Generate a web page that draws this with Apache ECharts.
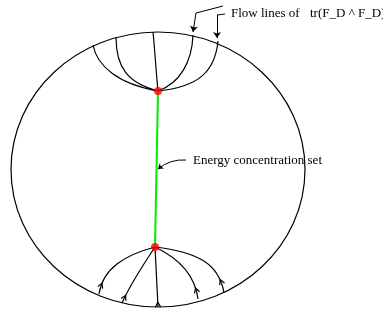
<!DOCTYPE html>
<html>
<head>
<meta charset="utf-8">
<script src="https://cdn.jsdelivr.net/npm/echarts@6/dist/echarts.min.js"></script>
<style>
html, body { margin: 0; padding: 0; background: #fff; }
#main { width: 383px; height: 313px; }
</style>
</head>
<body>
<div id="main"></div>
<script>
// boundary: cx, cy, rx, ry
let boundary = [[158, 169.5, 147, 137.5]];
// flow lines as cubic curves: x0, y0, cpx1, cpy1, cpx2, cpy2, x1, y1
let topFlows = [
    [93, 45, 97, 66, 118, 84, 158, 91],
    [116, 37, 116, 68, 128, 83, 158, 91],
    [153, 32, 155, 52, 156, 71, 158, 91],
    [193, 35, 192, 62, 180, 83, 158, 91],
    [218, 41, 215, 72, 198, 87, 158, 91]
];
let bottomFlows = [
    [155, 247, 125, 255, 103, 268, 99, 294],
    [155, 247, 143, 265, 130, 285, 122, 303],
    [155, 247, 156, 267, 157, 287, 158, 307],
    [155, 247, 178, 258, 195, 275, 198, 299],
    [155, 247, 195, 252, 219, 262, 224, 293]
];
// where the arrow mark sits on each bottom flow line
let chevronAt = [0.85, 0.86, 0.92, 0.84, 0.84];
let singular = [[158, 91], [155, 247]];
let concentration = [[158, 91], [155, 247]];
let leaderPlain = [
    [[223, 6], [196, 13]],
    [[225, 14], [217, 15]]
];
let leaderArrow = [
    [[196, 13], [193, 32]],
    [[217, 15], [217, 38]]
];
let leaderCurved = [
    [[186, 160], [158, 169]]
];

let serif = '13px "Liberation Serif", "DejaVu Serif", serif';

function bez(p, t) {
    let u = 1 - t;
    let a = u * u * u, b = 3 * u * u * t, c = 3 * u * t * t, d = t * t * t;
    let pt = [a * p[0] + b * p[2] + c * p[4] + d * p[6], a * p[1] + b * p[3] + c * p[5] + d * p[7]];
    let e = 3 * u * u, f = 6 * u * t, g = 3 * t * t;
    let tan = [e * (p[2] - p[0]) + f * (p[4] - p[2]) + g * (p[6] - p[4]),
               e * (p[3] - p[1]) + f * (p[5] - p[3]) + g * (p[7] - p[5])];
    return [pt, tan];
}

function curvePoints(api) {
    let res = [];
    for (let i = 0; i < 4; i++) {
        res.push(api.coord([api.value(i * 2), api.value(i * 2 + 1)]));
    }
    return res;
}

function renderFlow(withMark) {
    return function (params, api) {
        let c = curvePoints(api);
        let curve = {
            type: "bezierCurve",
            shape: {
                x1: c[0][0], y1: c[0][1],
                cpx1: c[1][0], cpy1: c[1][1],
                cpx2: c[2][0], cpy2: c[2][1],
                x2: c[3][0], y2: c[3][1]
            },
            style: { fill: "none", stroke: "#000", lineWidth: 1.2 }
        };
        if (!withMark) {
            return curve;
        }
        let flat = [c[0][0], c[0][1], c[1][0], c[1][1], c[2][0], c[2][1], c[3][0], c[3][1]];
        let r = bez(flat, chevronAt[params.dataIndex]);
        let pt = r[0];
        let len = Math.sqrt(r[1][0] * r[1][0] + r[1][1] * r[1][1]);
        let dx = r[1][0] / len, dy = r[1][1] / len;
        let L = 5.5, ang = 0.5;
        let w1 = [pt[0] + L * (dx * Math.cos(ang) - dy * Math.sin(ang)), pt[1] + L * (dx * Math.sin(ang) + dy * Math.cos(ang))];
        let w2 = [pt[0] + L * (dx * Math.cos(-ang) - dy * Math.sin(-ang)), pt[1] + L * (dx * Math.sin(-ang) + dy * Math.cos(-ang))];
        return {
            type: "group",
            children: [
                curve,
                {
                    type: "polyline",
                    shape: { points: [w1, pt, w2] },
                    style: { fill: "none", stroke: "#000", lineWidth: 1.2 }
                }
            ]
        };
    };
}

let chart = echarts.init(document.getElementById("main"));
let option = {
    animation: false,
    grid: { left: 0, right: 0, top: 0, bottom: 0 },
    xAxis: { type: "value", min: 0, max: 383, show: false },
    yAxis: { type: "value", min: 0, max: 313, inverse: true, show: false },
    graphic: [
        { type: "text", x: 231, y: 7, style: { text: "Flow lines of", fill: "#000", font: serif } },
        { type: "text", x: 310, y: 7, style: { text: "tr(F_D ^ F_D)", fill: "#000", font: serif } },
        { type: "text", x: 193, y: 154, style: { text: "Energy concentration set", fill: "#000", font: serif } }
    ],
    series: [
        {
            type: "custom",
            data: boundary,
            encode: { x: 0, y: 1 },
            silent: true,
            renderItem: function (params, api) {
                let c = api.coord([api.value(0), api.value(1)]);
                let s = api.size([api.value(2), api.value(3)]);
                return {
                    type: "ellipse",
                    shape: { cx: c[0], cy: c[1], rx: s[0], ry: s[1] },
                    style: { fill: "none", stroke: "#000", lineWidth: 1.2 }
                };
            }
        },
        {
            type: "custom",
            data: topFlows,
            encode: { x: [0, 2, 4, 6], y: [1, 3, 5, 7] },
            silent: true,
            renderItem: renderFlow(false)
        },
        {
            type: "custom",
            data: bottomFlows,
            encode: { x: [0, 2, 4, 6], y: [1, 3, 5, 7] },
            silent: true,
            renderItem: renderFlow(true)
        },
        {
            type: "lines",
            coordinateSystem: "cartesian2d",
            data: leaderPlain.map(c => ({ coords: c })),
            symbol: "none",
            lineStyle: { color: "#000", width: 1, opacity: 1 },
            silent: true
        },
        {
            type: "lines",
            coordinateSystem: "cartesian2d",
            data: leaderArrow.map(c => ({ coords: c })),
            symbol: ["none", "arrow"],
            symbolSize: 6,
            lineStyle: { color: "#000", width: 1, opacity: 1 },
            silent: true
        },
        {
            type: "lines",
            coordinateSystem: "cartesian2d",
            data: leaderCurved.map(c => ({ coords: c })),
            symbol: ["none", "arrow"],
            symbolSize: 5,
            lineStyle: { color: "#000", width: 1, opacity: 1, curveness: -0.2 },
            silent: true
        },
        {
            type: "line",
            data: concentration,
            symbol: "none",
            lineStyle: { color: "#00ee00", width: 2 },
            silent: true
        },
        {
            type: "scatter",
            data: singular,
            symbolSize: 8,
            itemStyle: { color: "#ff0000" },
            silent: true,
            z: 5
        }
    ]
};
chart.setOption(option);
</script>
</body>
</html>
